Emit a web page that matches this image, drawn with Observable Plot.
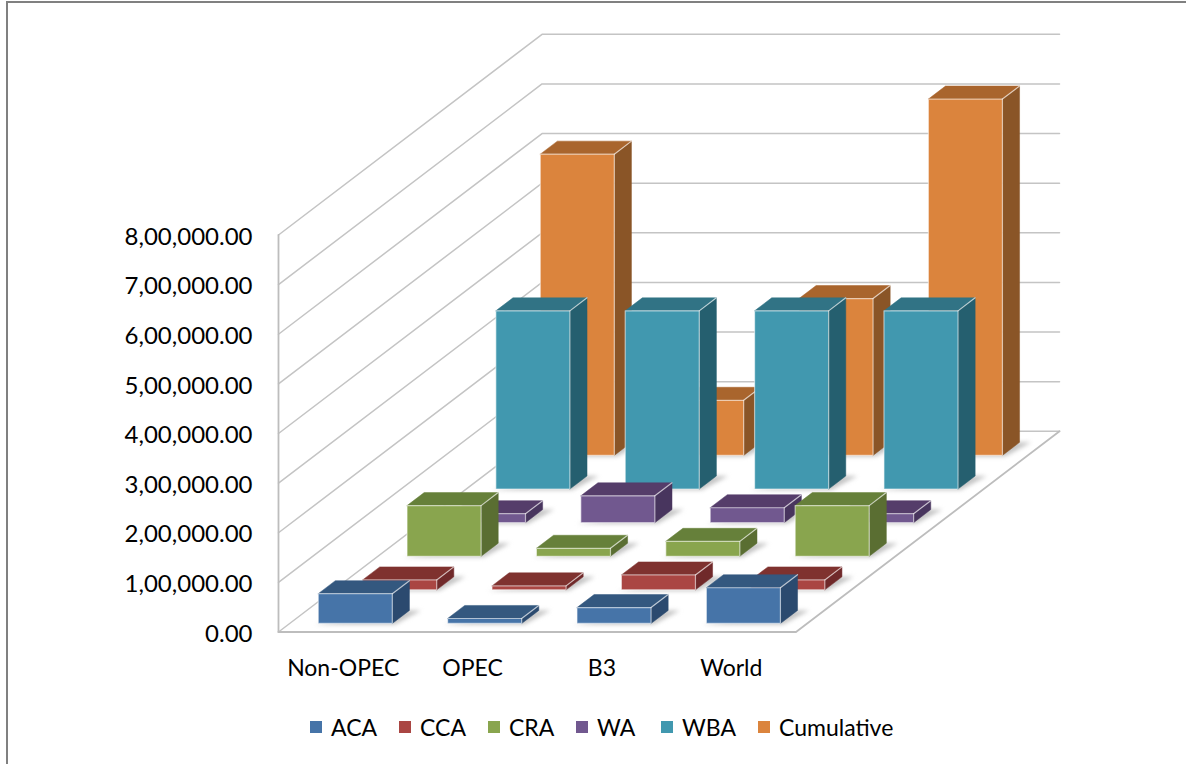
<!DOCTYPE html>
<html>
<head>
<meta charset="utf-8">
<script src="https://cdn.jsdelivr.net/npm/d3@7"></script>
<script src="https://cdn.jsdelivr.net/npm/@observablehq/plot@0.6"></script>
<style>
  html, body { margin: 0; padding: 0; background: #fff; overflow: hidden; }
  body { width: 1186px; height: 764px; position: relative; font-family: Lato, sans-serif; }
  #frame { position: absolute; left: 6px; top: 1px; right: -4px; bottom: -4px; border: 2px solid #808080; pointer-events: none; }
  #chart svg { display: block; }
  #legend { position: absolute; left: 310px; top: 711px; height: 32px; display: flex; align-items: center; font-size: 23px; color: #000; white-space: nowrap; }
  #legend .item { display: flex; align-items: center; flex: none; }
  #legend .key { width: 12px; height: 12px; margin-right: 9px; }
</style>
</head>
<body>
<div id="chart"></div>
<div id="legend"></div>
<div id="frame"></div>
<script>
// Categories along the front edge and series running front to back
const categories = ["Non-OPEC", "OPEC", "B3", "World"];
const seriesNames = ["ACA", "CCA", "CRA", "WA", "WBA", "Cumulative"];

// Values per series, one per category
const ACA = [60000, 10000, 32000, 72000];
const CCA = [20000, 8000, 30000, 20000];
const CRA = [102000, 16000, 30000, 102000];
const WA = [18000, 54000, 30000, 18000];
const WBA = [359000, 359000, 359000, 359000];
const Cumulative = [607000, 111000, 316000, 718000];
const seriesValues = [ACA, CCA, CRA, WA, WBA, Cumulative];

// Value axis ticks and their lakh-grouped labels
const tickValues = [0, 100000, 200000, 300000, 400000, 500000, 600000, 700000, 800000];
const tickLabels = ["0.00", "1,00,000.00", "2,00,000.00", "3,00,000.00", "4,00,000.00", "5,00,000.00", "6,00,000.00", "7,00,000.00", "8,00,000.00"];

// Face colours per series: front, top, side
const frontColors = ["#4674a8", "#aa4643", "#89a54e", "#71588f", "#4198af", "#db843d"];
const topColors = ["#34587f", "#7f322f", "#66803a", "#553d6a", "#317385", "#a9652d"];
const sideColors = ["#2b4a6f", "#70292a", "#5a6e32", "#48355e", "#255f6f", "#8a5527"];

// Legend entry widths in pixels
const legendWidths = [89, 89, 88, 85, 97, 140];

// Oblique projection: one unit of depth shifts right (category units) and up (value units)
const depthX = 0.3395;
const depthY = 67400;
const project = (cat, depth, value) => ({x: cat + depth * depthX, y: value + depth * depthY});

// Bar footprint inside its category/series cell
const catInset = 0.2205, barWidth = 0.5725, rowDrift = 0.002;
const depthInset = 0.255, depthStep = 1.005, barDepth = 0.39;

const polygon = (pts, options) => Plot.line([...pts, pts[0]], {x: "x", y: "y", curve: "linear", ...options});

// Walls and floor
const gridColor = "#c4c4c4";
const gridMarks = tickValues.flatMap((v) => [
  Plot.line([project(0, 0, v), project(0, 6, v), project(4, 6, v)], {x: "x", y: "y", stroke: gridColor, strokeWidth: 1.5})
]);
const floorMarks = [
  Plot.line([project(0, 0, tickValues[8]), project(0, 0, 0)], {x: "x", y: "y", stroke: "#bdbdbd", strokeWidth: 1.8}),
  Plot.line([project(0, 0, 0), project(4, 0, 0), project(4, 6, 0)], {x: "x", y: "y", stroke: "#bdbdbd", strokeWidth: 1.8})
];

// Bars painted from the back row forward, each with a soft shadow on the floor
const barMarks = d3.range(5, -1, -1).flatMap((s) =>
  categories.flatMap((_, c) => {
    const value = seriesValues[s][c];
    const x0 = c + catInset + s * rowDrift, x1 = x0 + barWidth;
    const d0 = depthInset + s * depthStep, d1 = d0 + barDepth;
    const shadow = [project(x0 - 0.02, d0 - 0.03, 0), project(x1 + 0.03, d0 - 0.03, 0), project(x1 + 0.09, d1, 0), project(x1 - 0.02, d1, 0)];
    const front = [project(x0, d0, 0), project(x1, d0, 0), project(x1, d0, value), project(x0, d0, value)];
    const side = [project(x1, d0, 0), project(x1, d1, 0), project(x1, d1, value), project(x1, d0, value)];
    const top = [project(x0, d0, value), project(x1, d0, value), project(x1, d1, value), project(x0, d1, value)];
    return [
      polygon(shadow, {fill: "#c4c4c4", imageFilter: "blur(2px)"}),
      polygon(side, {fill: sideColors[s], stroke: sideColors[s], strokeWidth: 0.5}),
      polygon(top, {fill: topColors[s], stroke: topColors[s], strokeWidth: 0.5}),
      polygon(front, {fill: frontColors[s], stroke: "#ffffff", strokeOpacity: 0.55, strokeWidth: 1.2}),
      Plot.line([project(x1, d0, value), project(x1, d1, value)], {x: "x", y: "y", stroke: "#ffffff", strokeOpacity: 0.65, strokeWidth: 1.2})
    ];
  })
);

const tickTable = tickValues.map((value, i) => ({value, label: tickLabels[i]}));
const catTable = categories.map((label, i) => ({pos: i + 0.5, label}));

document.getElementById("chart").append(Plot.plot({
  width: 1186,
  height: 700,
  margin: 0,
  x: {domain: [0, 4], range: [278, 795.5], axis: null},
  y: {domain: [0, 800000], range: [631.5, 234.5], axis: null},
  style: {fontFamily: "Lato, sans-serif", background: "transparent"},
  marks: [
    ...gridMarks,
    ...floorMarks,
    ...barMarks,
    Plot.text(tickTable, {x: () => 0, y: "value", text: "label", textAnchor: "end", dx: -26, dy: 2, fontSize: 24, fill: "#000"}),
    Plot.text(catTable, {x: "pos", y: () => 0, text: "label", dy: 37, fontSize: 23, fill: "#000"})
  ]
}));

// Legend below the chart
const legend = d3.select("#legend");
seriesNames.forEach((name, i) => {
  const item = legend.append("div").attr("class", "item").style("width", `${legendWidths[i]}px`);
  item.append("div").attr("class", "key").style("background", frontColors[i]);
  item.append("span").text(name);
});
</script>
</body>
</html>
